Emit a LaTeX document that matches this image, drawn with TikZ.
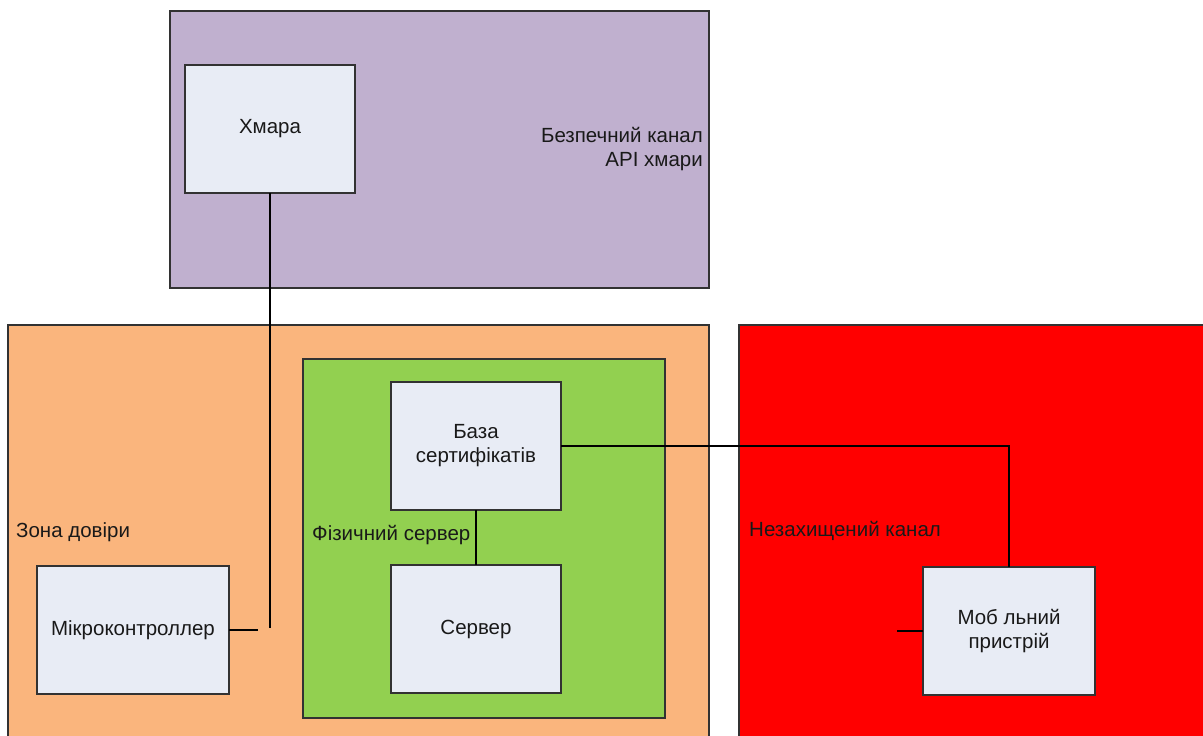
\documentclass[tikz,border=0pt]{standalone}
\usepackage{fontspec}
\setmainfont{Liberation Sans}
\definecolor{purplezone}{RGB}{192,176,207}
\definecolor{orangezone}{RGB}{250,181,125}
\definecolor{greenzone}{RGB}{146,208,80}
\definecolor{redzone}{RGB}{255,0,0}
\definecolor{boxfill}{RGB}{232,236,245}
\definecolor{edge}{RGB}{50,50,50}
\definecolor{txt}{RGB}{25,25,25}
\begin{document}
\begin{tikzpicture}[x=1pt,y=-1pt,
  zone/.style={draw=edge,line width=1.6pt,anchor=north west,inner sep=0pt,outer sep=0pt},
  unit/.style={draw=edge,line width=1.6pt,fill=boxfill,anchor=north west,inner sep=0pt,outer sep=0pt,
    minimum width=#1,minimum height=128pt,align=center,text=txt,font=\fontsize{20.5}{24}\selectfont},
  unit/.default=170pt,
  zlabel/.style={inner sep=0pt,text=txt,font=\fontsize{20.5}{24}\selectfont},
  wire/.style={line width=1.6pt,black}]
\useasboundingbox (0,0) rectangle (1203,736);
\clip (0,0) rectangle (1203,736);
\fill[white] (0,0) rectangle (1203,736);
% zones
\node[zone,fill=purplezone,minimum width=539pt,minimum height=277pt] (cloudzone) at (170,11) {};
\node[zone,fill=orangezone,minimum width=701pt,minimum height=430pt] (trustzone) at (8,325) {};
\node[zone,fill=greenzone,minimum width=362pt,minimum height=359pt] (physzone) at (303,359) {};
\node[zone,fill=redzone,minimum width=480pt,minimum height=430pt] (openzone) at (739,325) {};
% zone labels
\node[zlabel,align=right,anchor=east] (cloudlbl) at (703,149) {Безпечний канал\\API хмари};
\node[zlabel,anchor=west] (trustlbl) at (16,532) {Зона довіри};
\node[zlabel,anchor=west] (physlbl) at (312,535) {Фізичний сервер};
\node[zlabel,anchor=west] (openlbl) at (749,531) {Незахищений канал};
% units
\node[unit] (cloud) at (185,65) {Хмара};
\node[unit=192pt] (mc) at (37,566) {Мікроконтроллер};
\node[unit] (db) at (391,382) {База\\сертифікатів};
\node[unit] (srv) at (391,565) {Сервер};
\node[unit=172pt] (mob) at (923,567) {Моб льний\\пристрій};
% connectors
\coordinate (cloudend) at (270,628);
\coordinate (mcstub) at (258,628);
\coordinate (mobstub) at (897,630);
\draw[wire] (cloud.south) -- (cloudend);
\draw[wire] (mc.east) -- (mc.east -| mcstub);
\draw[wire] (db.south) -- (srv.north);
\draw[wire] (db.east) -| (mob.north);
\draw[wire] (mob.west) -- (mob.west -| mobstub);
\end{tikzpicture}
\end{document}
